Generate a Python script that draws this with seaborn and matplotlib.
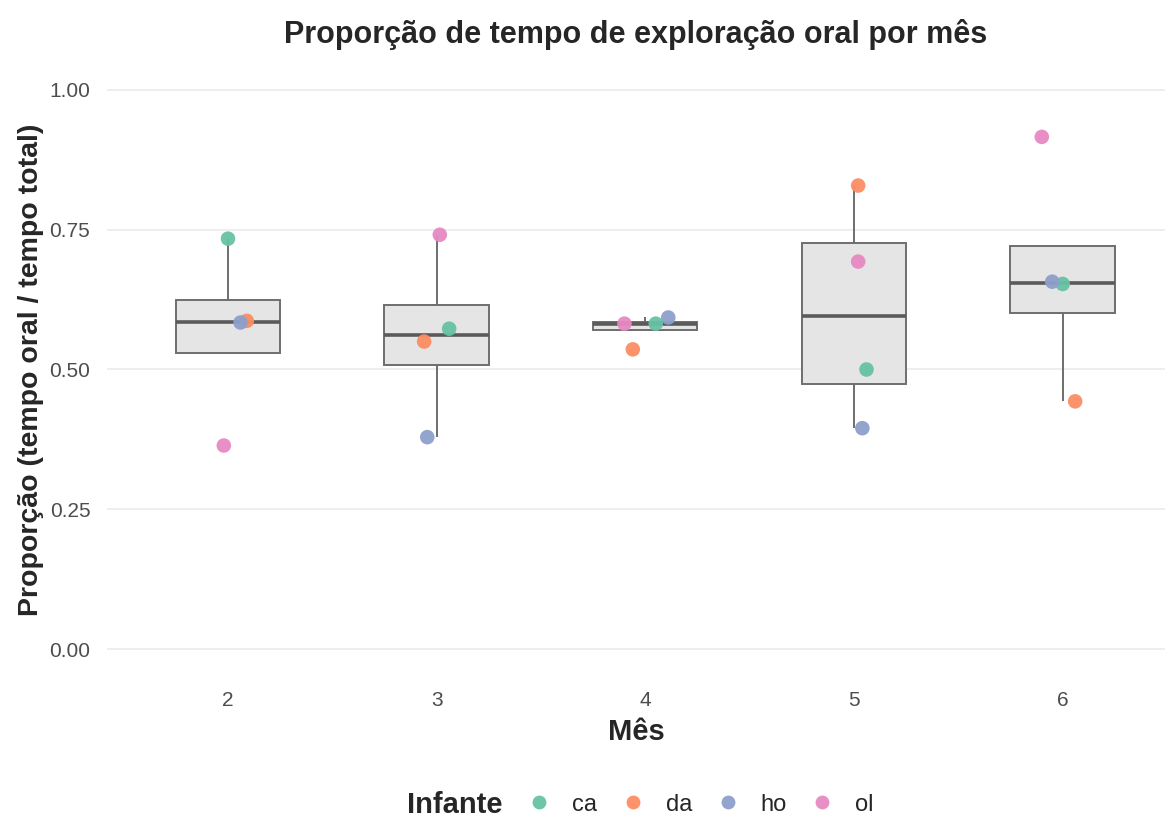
import matplotlib
matplotlib.use('Agg')
import matplotlib.pyplot as plt
import seaborn as sns
import pandas as pd
import numpy as np

# data
meses = ['2', '3', '4', '5', '6']
infantes = ['ca', 'da', 'ho', 'ol']
prop_ca = [0.734, 0.573, 0.582, 0.500, 0.653]
prop_da = [0.587, 0.550, 0.536, 0.829, 0.443]
prop_ho = [0.584, 0.379, 0.593, 0.395, 0.657]
prop_ol = [0.364, 0.741, 0.582, 0.693, 0.916]
# horizontal jitter of each point (category units)
jit_ca = [0.00, 0.06, 0.05, 0.06, 0.00]
jit_da = [0.09, -0.06, -0.06, 0.02, 0.06]
jit_ho = [0.06, -0.045, 0.11, 0.04, -0.05]
jit_ol = [-0.02, 0.015, -0.10, 0.02, -0.10]

cores = ['#66c2a5', '#fc8d62', '#8da0cb', '#e78ac3']

rows = []
for inf, vals, jit in zip(infantes, [prop_ca, prop_da, prop_ho, prop_ol],
                          [jit_ca, jit_da, jit_ho, jit_ol]):
    for i, (m, v, j) in enumerate(zip(meses, vals, jit)):
        rows.append({'Mes': m, 'pos': i + j, 'Proporcao': v, 'Infante': inf})
df = pd.DataFrame(rows)

sns.set_theme(style='white')
plt.rcParams['font.family'] = ['Liberation Sans', 'DejaVu Sans']

fig = plt.figure(figsize=(11.69, 8.22), dpi=100)
ax = fig.add_axes([0.0915, 0.1764, 0.905, 0.7482])

sns.boxplot(data=df, x='Mes', y='Proporcao', order=meses, color='#e5e5e5',
            width=0.5, showfliers=False, showcaps=False, linecolor='#6e6e6e',
            linewidth=1.4, saturation=1,
            medianprops={'color': '#5a5a5a', 'linewidth': 2.6},
            ax=ax, zorder=2)
sns.scatterplot(data=df, x='pos', y='Proporcao', hue='Infante', hue_order=infantes,
                palette=cores, s=110, edgecolor='none', alpha=0.95, ax=ax, zorder=3)

ax.set_xlim(-0.58, 4.49)
ax.set_ylim(-0.05, 1.05)
ax.set_xticks(range(len(meses)))
ax.set_xticklabels(meses)
ax.set_yticks([0, 0.25, 0.5, 0.75, 1.0])
ax.set_yticklabels(['0.00', '0.25', '0.50', '0.75', '1.00'])
ax.tick_params(axis='x', labelsize=15, labelcolor='#4d4d4d', length=0, pad=10)
ax.tick_params(axis='y', labelsize=15, labelcolor='#4d4d4d', length=0, pad=12)
ax.grid(axis='y', color='#ebebeb', linewidth=1.2, zorder=0)
ax.set_axisbelow(True)
for s in ax.spines.values():
    s.set_visible(False)

ax.set_xlabel('Mês', fontsize=21, fontweight='bold', labelpad=6)
ax.set_ylabel('Proporção (tempo oral / tempo total)', fontsize=20.5, fontweight='bold', labelpad=4)
ax.set_title('Proporção de tempo de exploração oral por mês', fontsize=22,
             fontweight='bold', pad=14)

handles, labels = ax.get_legend_handles_labels()
ax.get_legend().remove()
fig.text(0.43, 0.004, 'Infante', fontsize=21, fontweight='bold', ha='right', va='bottom')
fig.legend(handles, labels, loc='lower left', bbox_to_anchor=(0.433, -0.018), ncol=4,
           frameon=False, fontsize=17, handlelength=1.0, handletextpad=0.9,
           columnspacing=1.0, markerscale=0.95)

fig.savefig('out.png', dpi=100)
